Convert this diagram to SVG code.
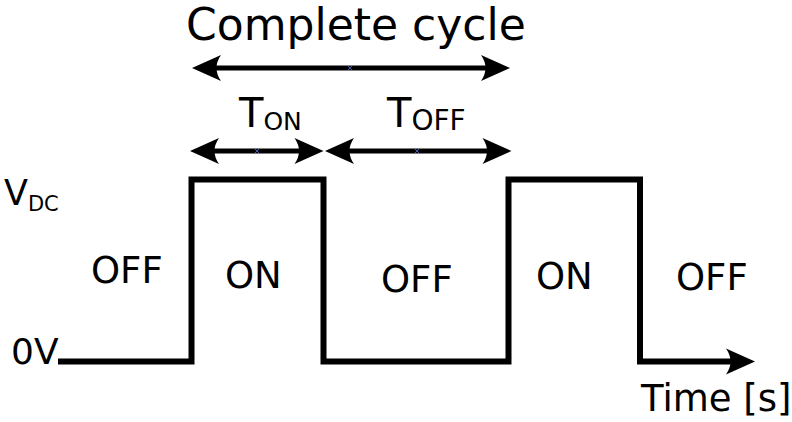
<svg xmlns="http://www.w3.org/2000/svg" width="792" height="422" viewBox="0 0 792 422">
<style>
text{font-family:"DejaVu Sans",sans-serif;fill:#000}
.w{fill:none;stroke:#000;stroke-width:6;stroke-linejoin:miter;stroke-linecap:butt}
.a{fill:none;stroke:#000;stroke-width:5}
.h{fill:#000;stroke:none}
.x{stroke:#5a6fd0;stroke-width:0.8;fill:none}
</style>
<defs>
<path id="head" d="M0,0 L-29,-13 Q-20,0 -29,13 Z"/>
</defs>
<rect width="792" height="422" fill="#fff"/>
<g id="labels">
<text x="186" y="40" font-size="44">Complete cycle</text>
<text x="239" y="127" font-size="40">T<tspan font-size="25" dy="3">ON</tspan></text>
<text x="387" y="127" font-size="40">T<tspan font-size="28" dy="3">OFF</tspan></text>
<text x="4" y="205" font-size="35">V<tspan font-size="21" dy="6">DC</tspan></text>
<text x="11" y="364" font-size="36">0V</text>
<text x="91" y="283" font-size="37">OFF</text>
<text x="225" y="288" font-size="37">ON</text>
<text x="381" y="292" font-size="37">OFF</text>
<text x="536" y="289" font-size="37">ON</text>
<text x="676" y="290" font-size="37">OFF</text>
<text x="641" y="411" font-size="37">Time [s]</text>
</g>
<g id="waveform">
<path class="w" d="M58,361.5 H191.5 V179.5 H323.5 V361.5 H508.5 V179.5 H640 V361.5 H735"/>
<use href="#head" transform="translate(755,361.5)"/>
</g>
<g id="connectors">
<line class="a" x1="205" y1="68" x2="497" y2="68"/>
<use href="#head" transform="translate(192,68) rotate(180)"/>
<use href="#head" transform="translate(510,68)"/>
<line class="a" x1="203" y1="151" x2="310" y2="151"/>
<use href="#head" transform="translate(190,151) rotate(180)"/>
<use href="#head" transform="translate(323.5,151)"/>
<line class="a" x1="338" y1="151" x2="498" y2="151"/>
<use href="#head" transform="translate(325,151) rotate(180)"/>
<use href="#head" transform="translate(511.5,151)"/>
<path class="x" d="M348,66 l4,4 m0,-4 l-4,4 M255,149 l4,4 m0,-4 l-4,4 M415,149 l4,4 m0,-4 l-4,4"/>
</g>
</svg>
